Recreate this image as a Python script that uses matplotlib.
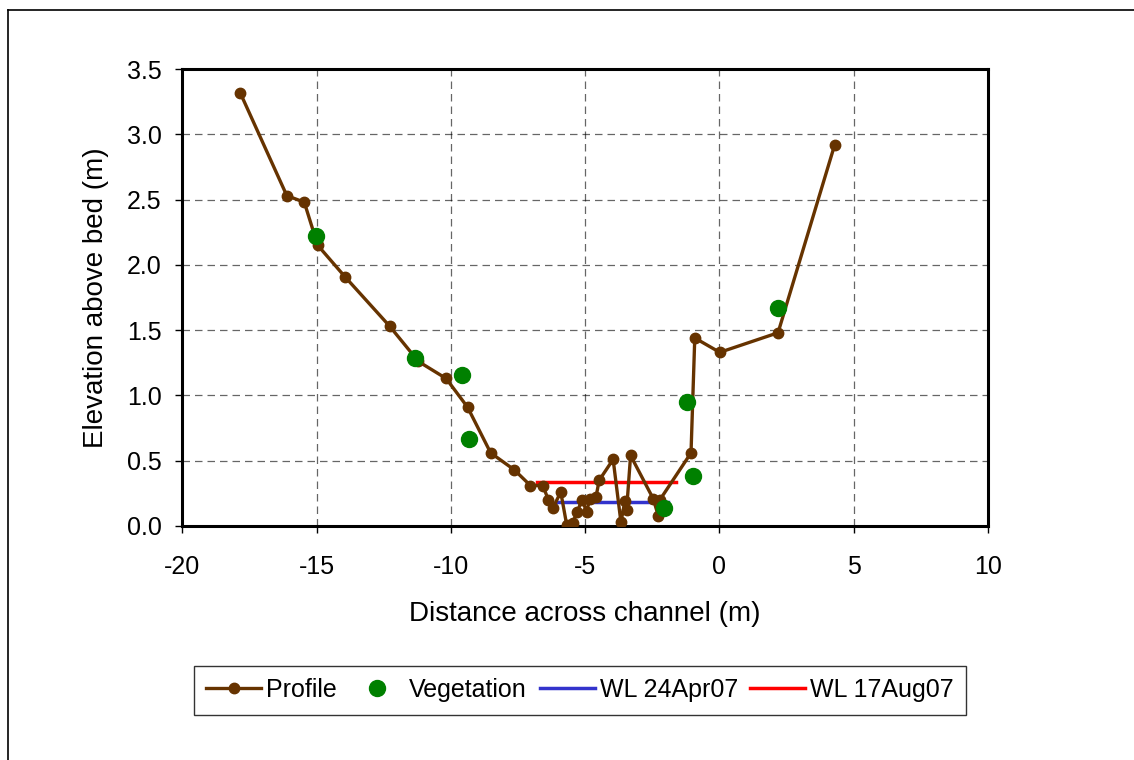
import numpy as np
import matplotlib.pyplot as plt
from matplotlib.lines import Line2D

plt.rcParams['font.family'] = ['Liberation Sans', 'DejaVu Sans']
plt.rcParams['axes.unicode_minus'] = False

# cross-section profile, in the order it was surveyed
profile_x = [-17.85, -16.11, -15.46, -14.96, -13.95, -12.28, -11.21, -10.18, -9.38,
             -8.52, -7.64, -7.04, -6.58, -6.37, -6.21, -5.91, -5.69, -5.47, -5.30,
             -5.11, -4.95, -4.82, -4.60, -4.48, -3.96, -3.67, -3.52, -3.46, -3.31,
             -2.47, -2.28, -2.22, -1.06, -0.92, 0.01, 2.18, 4.29]
profile_y = [3.32, 2.53, 2.48, 2.15, 1.91, 1.53, 1.26, 1.13, 0.91,
             0.56, 0.43, 0.31, 0.31, 0.20, 0.135, 0.26, 0.01, 0.02, 0.11,
             0.20, 0.11, 0.21, 0.22, 0.35, 0.51, 0.03, 0.19, 0.12, 0.54,
             0.21, 0.08, 0.20, 0.56, 1.44, 1.33, 1.48, 2.92]

veg_x = [-15.03, -11.34, -9.60, -9.31, -2.07, -1.00, -1.20, 2.18]
veg_y = [2.22, 1.29, 1.16, 0.67, 0.135, 0.385, 0.95, 1.67]

wl_apr_x = [-6.09, -1.91]
wl_apr_y = [0.186, 0.186]
wl_aug_x = [-6.81, -1.62]
wl_aug_y = [0.338, 0.338]

fig = plt.figure(figsize=(11.34, 7.6), dpi=100)
ax = fig.add_axes([0.1608, 0.3079, 0.7105, 0.6013])

# outer frame (only top and left edges fall inside the picture)
fig.add_artist(Line2D([8 / 1134, 8 / 1134], [0, 1 - 10 / 760], color='black', lw=1.2))
fig.add_artist(Line2D([8 / 1134, 1], [1 - 10 / 760, 1 - 10 / 760], color='black', lw=1.2))

ax.plot(profile_x, profile_y, color='#663300', lw=2.4, marker='o', ms=7.5,
        label='Profile', zorder=3)
ax.plot(veg_x, veg_y, ls='none', marker='o', ms=11.5, color='#008000',
        label='Vegetation', zorder=4)
ax.plot(wl_apr_x, wl_apr_y, color='#3333cc', lw=2.5, label='WL 24Apr07', zorder=2)
ax.plot(wl_aug_x, wl_aug_y, color='#ff0000', lw=2.5, label='WL 17Aug07', zorder=2)

ax.set_xlim(-20, 10)
ax.set_ylim(0, 3.5)
ax.set_xticks(np.arange(-20, 11, 5))
ax.set_yticks(np.arange(0, 3.51, 0.5))
ax.set_yticklabels([f'{v:.1f}' for v in np.arange(0, 3.51, 0.5)])
ax.grid(True, color='black', ls=(0, (6, 4)), lw=0.9, alpha=0.6)
ax.set_axisbelow(True)
ax.tick_params(labelsize=18, direction='out', length=5, width=1)
ax.tick_params(axis='x', pad=16)
ax.tick_params(axis='y', pad=10)
for s in ax.spines.values():
    s.set_linewidth(2.2)

ax.set_xlabel('Distance across channel (m)', fontsize=20, labelpad=16)
ax.set_ylabel('Elevation above bed (m)', fontsize=20, labelpad=13)

fig.legend(loc='center', bbox_to_anchor=(580 / 1134, 1 - 690 / 760), ncol=4,
           fontsize=18, frameon=True, fancybox=False, edgecolor='black',
           handlelength=2.2, columnspacing=0.5, handletextpad=0.2,
           borderpad=0.5)

fig.savefig('out.png', dpi=100)
